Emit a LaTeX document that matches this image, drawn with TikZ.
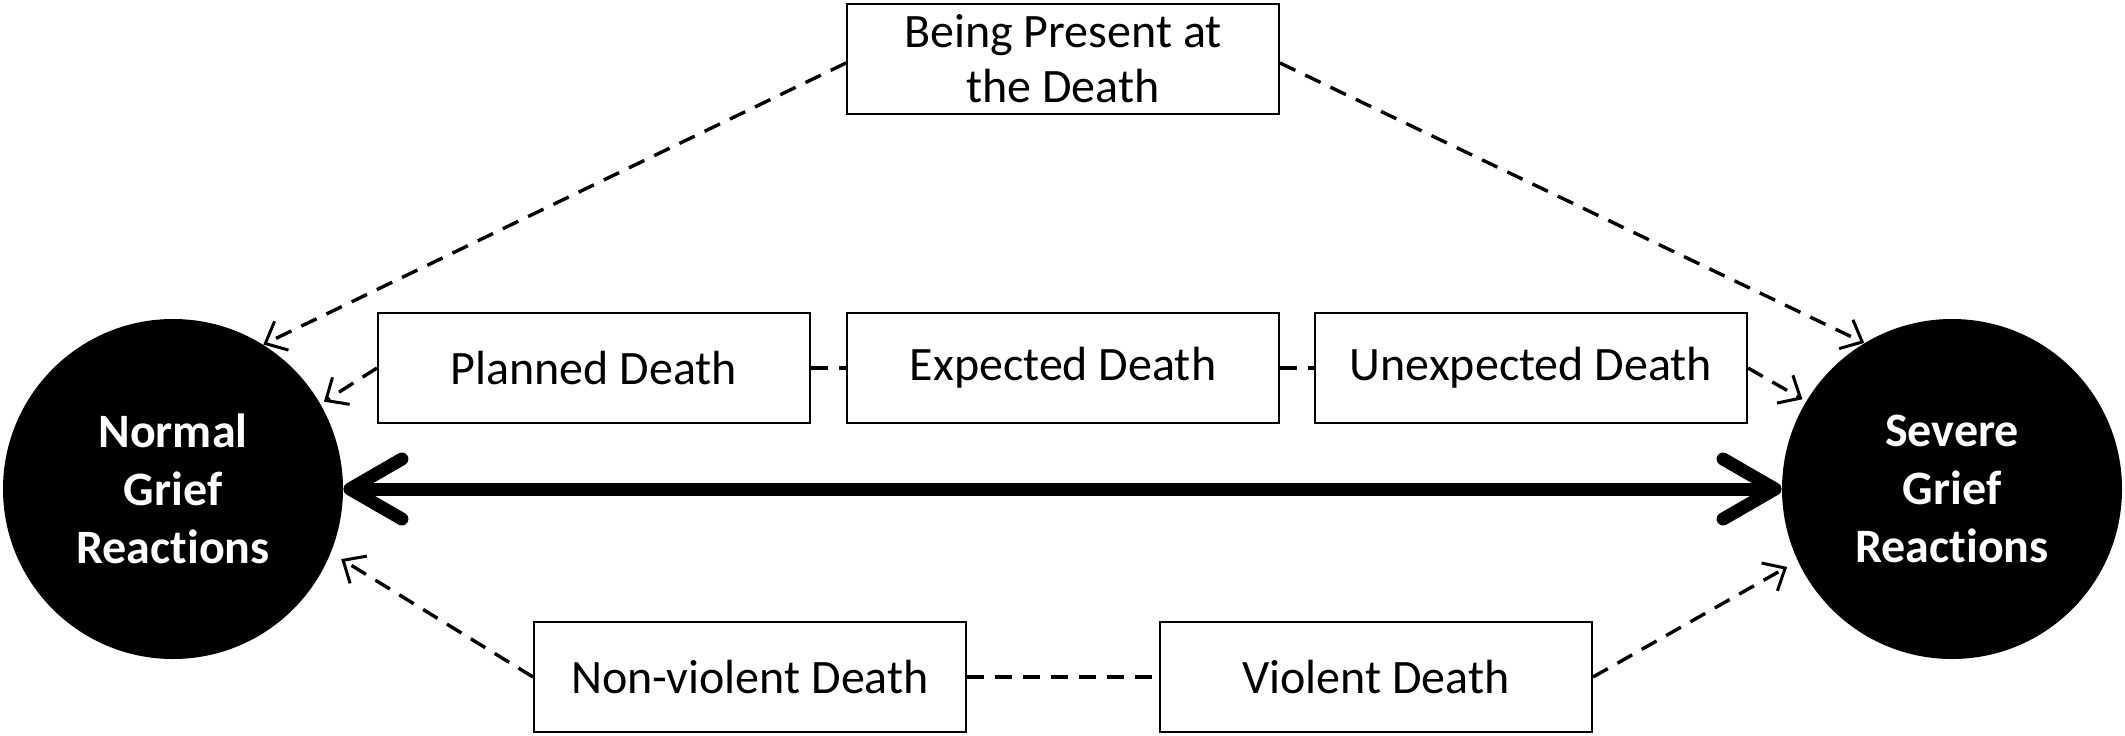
\documentclass[tikz,border=0pt]{standalone}
\usepackage{fontspec}
\setmainfont{Carlito}[Ligatures=NoCommon]
\usetikzlibrary{arrows.meta}
\begin{document}
\begin{tikzpicture}[x=0.5pt,y=-0.5pt,
  factor/.style={draw=black,line width=1pt,minimum width=216pt,minimum height=55pt,
    inner sep=2pt,align=center,font=\fontsize{24}{27.5}\selectfont},
  outcome/.style={circle,fill=black,minimum size=170pt,inner sep=0pt,text=white,
    align=center,font=\fontsize{24}{29}\selectfont\bfseries},
  link/.style={line width=1.7pt,dash pattern=on 8.5pt off 5.5pt},
  infl/.style={link,-{Straight Barb[length=9pt,width=16pt,line width=1.5pt]}},
  axis/.style={line width=6.5pt,line cap=round,
    {Straight Barb[length=26pt,width=30pt,line cap=round,line join=round]}-{Straight Barb[length=26pt,width=30pt,line cap=round,line join=round]}}
]
\useasboundingbox (0,0) rectangle (2125,735);
\node[outcome] (normal) at (173,489) {Normal\\Grief\\Reactions};
\node[outcome] (severe) at (1952,489) {Severe\\Grief\\Reactions};
\node[factor] (present) at (1063,59) {Being Present at\\the Death};
\node[factor] (planned) at (594,368) {Planned Death};
\node[factor] (expected) at (1063,368) {Expected Death};
\node[factor] (unexpected) at (1531,368) {Unexpected Death};
\node[factor] (nonviolent) at (750,677) {Non-violent Death};
\node[factor] (violent) at (1376,677) {Violent Death};

\draw[axis] (normal.east) -- (severe.west);
\draw[infl] ([yshift=-2pt]present.west) -- (normal.58);
\draw[infl] ([yshift=-2pt]present.east) -- (severe.121.5);
\draw[infl,shorten >=2pt] (planned.west) -- (normal.30);
\draw[infl,shorten >=2pt] (unexpected.east) -- (severe.149);
\draw[infl,shorten >=6pt] (nonviolent.west) -- (normal.-22);
\draw[infl,shorten >=6pt] (violent.east) -- (severe.-155);
\draw[link] (planned.east) -- (expected.west);
\draw[link] (expected.east) -- (unexpected.west);
\draw[link] (nonviolent.east) -- (violent.west);
\end{tikzpicture}
\end{document}
